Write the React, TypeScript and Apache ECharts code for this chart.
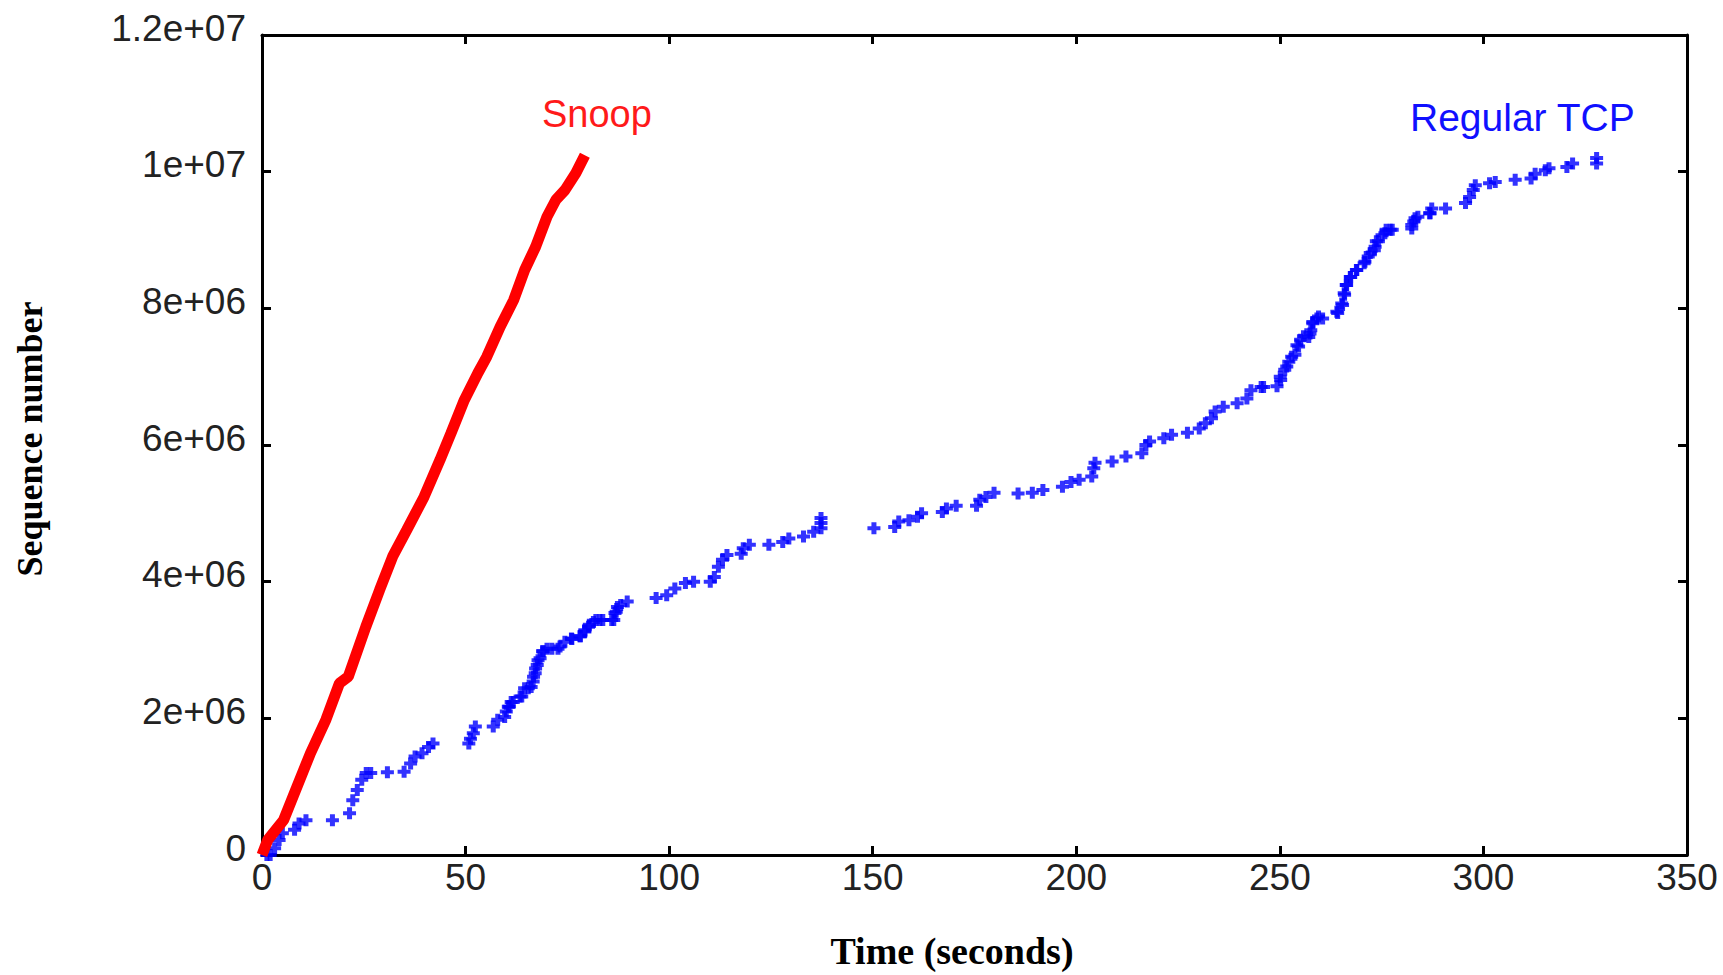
import React, { useEffect, useRef } from "react";
import * as echarts from "echarts";

// Time (s) and sequence number (millions)
const snoopData: [number, number][] = [
  [0, 0], [1.4, 0.22], [5.3, 0.51], [8.6, 1.0], [11.9, 1.49], [15.7, 1.98], [19.0, 2.51],
  [21.2, 2.61], [25.5, 3.34], [28.9, 3.88], [32.1, 4.37], [35.5, 4.75], [39.8, 5.24],
  [43.7, 5.78], [46.4, 6.17], [49.7, 6.66], [53.0, 7.05], [55.2, 7.29], [58.5, 7.73],
  [61.8, 8.12], [64.5, 8.56], [67.2, 8.9], [70.0, 9.34], [72.2, 9.59], [74.4, 9.73],
  [77.1, 9.98], [79.3, 10.24],
];

const regularTcpData: [number, number][] = [
  [1.2, 0.0], [2.0, 0.0], [3.1, 0.1], [4.2, 0.22], [5.0, 0.32], [8.0, 0.37], [9.1, 0.46], [10.8, 0.51],
  [17.3, 0.51], [21.5, 0.61], [22.3, 0.8], [23.4, 0.95], [24.5, 1.1], [25.6, 1.2], [26.7, 1.2],
  [30.8, 1.21], [34.9, 1.22], [36.5, 1.34], [37.6, 1.44], [39.3, 1.49], [40.9, 1.58], [42.0, 1.63],
  [50.8, 1.63], [51.2, 1.7], [51.9, 1.78], [52.4, 1.88], [56.8, 1.88], [57.9, 1.98], [59.6, 2.02],
  [60.0, 2.1], [60.5, 2.17], [60.7, 2.17], [61.2, 2.24], [61.7, 2.24], [63.4, 2.32], [63.8, 2.32],
  [64.5, 2.44], [65.4, 2.44], [66.1, 2.46], [66.6, 2.54], [66.7, 2.61], [67.1, 2.66], [67.2, 2.73],
  [67.6, 2.78], [67.8, 2.85], [68.3, 2.88], [68.9, 2.98], [69.1, 2.98], [70.0, 3.02], [71.2, 3.02],
  [72.7, 3.02], [73.2, 3.05], [74.4, 3.12], [76.0, 3.17], [76.1, 3.16], [78.1, 3.2], [78.2, 3.2],
  [79.3, 3.27], [79.3, 3.29], [80.2, 3.34], [80.4, 3.37], [81.4, 3.41], [82.0, 3.44], [83.0, 3.44],
  [83.7, 3.44], [85.9, 3.44], [86.4, 3.44], [86.7, 3.54], [87.0, 3.56], [87.3, 3.63], [88.1, 3.66],
  [89.7, 3.71],
  [96.8, 3.76], [99.4, 3.8], [101.4, 3.9], [104.0, 3.98], [106.0, 4.0], [110.1, 4.0], [111.1, 4.07],
  [112.1, 4.22], [113.1, 4.32], [114.2, 4.39], [117.7, 4.41], [118.2, 4.49], [119.7, 4.54],
  [124.5, 4.54], [127.9, 4.58], [129.4, 4.63], [133.0, 4.66], [135.5, 4.73], [137.3, 4.78],
  [137.3, 4.86], [137.3, 4.93], [150.3, 4.78], [155.4, 4.8], [156.4, 4.88], [158.9, 4.9],
  [161.0, 4.95], [162.0, 5.0], [167.1, 5.02], [168.1, 5.07], [170.5, 5.11], [175.5, 5.11],
  [176.3, 5.2], [177.8, 5.24], [179.8, 5.3], [185.7, 5.29], [189.2, 5.3], [191.8, 5.34],
  [196.6, 5.39], [198.7, 5.46], [200.7, 5.49], [203.8, 5.54], [204.3, 5.66], [204.6, 5.74],
  [208.8, 5.76], [212.2, 5.83], [216.1, 5.88], [217.1, 6.0], [218.0, 6.05], [221.5, 6.1],
  [223.4, 6.15], [227.3, 6.18], [230.2, 6.24], [231.7, 6.32], [233.2, 6.39], [234.1, 6.49],
  [236.1, 6.56], [239.5, 6.61], [241.9, 6.68], [242.9, 6.8], [245.4, 6.85], [246.0, 6.85],
  [249.3, 6.86], [250.1, 7.0], [250.2, 6.95], [251.2, 7.1], [251.7, 7.15], [252.2, 7.22],
  [252.9, 7.29], [253.7, 7.32], [254.2, 7.46], [254.6, 7.44], [255.1, 7.54], [255.8, 7.59],
  [257.1, 7.58], [257.4, 7.63], [257.6, 7.68], [258.1, 7.8], [258.1, 7.78], [259.1, 7.85],
  [259.5, 7.88], [260.5, 7.85], [264.0, 7.95], [264.2, 7.93], [265.2, 8.07], [265.4, 8.05],
  [265.8, 8.22], [265.9, 8.2], [266.3, 8.34], [266.4, 8.34], [267.3, 8.46], [267.4, 8.46],
  [268.8, 8.56], [268.9, 8.56], [270.7, 8.66], [270.9, 8.68], [271.7, 8.76], [272.2, 8.81],
  [273.2, 8.85], [273.4, 8.9], [273.7, 8.98], [274.2, 8.98], [275.1, 9.07], [275.8, 9.1],
  [276.1, 9.15], [277.1, 9.15], [277.6, 9.15], [282.4, 9.17], [282.4, 9.22], [282.9, 9.27],
  [283.2, 9.32], [283.9, 9.34], [286.8, 9.39], [286.9, 9.39], [287.3, 9.46], [290.7, 9.46],
  [295.6, 9.54], [296.6, 9.63], [297.5, 9.73], [298.0, 9.8], [301.5, 9.83], [302.9, 9.85],
  [307.8, 9.88], [311.7, 9.9], [312.7, 9.97], [315.2, 10.02], [316.1, 10.05], [320.5, 10.07],
  [321.9, 10.12], [327.8, 10.12], [327.8, 10.2],
];

const xTickLabels = ["0", "50", "100", "150", "200", "250", "300", "350"];
const yTickLabels = ["0", "2e+06", "4e+06", "6e+06", "8e+06", "1e+07", "1.2e+07"];

const seriesNames = ["Snoop", "Regular TCP"];
const xTitle = "Time (seconds)";
const yTitle = "Sequence number";

const SANS = "'Liberation Sans', Arial, sans-serif";
const SERIF = "'Liberation Serif', 'Times New Roman', serif";

const PLUS = "path://M0,4H4V0H9V4H13V8H9V12H4V8H0Z";

export default function App() {
  const ref = useRef<HTMLDivElement>(null);
  useEffect(() => {
    if (!ref.current) return;
    const chart = echarts.init(ref.current, undefined, { renderer: "svg" });
    const axisLine = () => ({ show: true, onZero: false, lineStyle: { color: "#000", width: 3 } });
    const axisTick = () => ({ show: true, inside: true, length: 9, lineStyle: { color: "#000", width: 3 } });
    const toM = (d: [number, number][]) => d.map(([t, s]) => [t, s * 1e6]);
    chart.setOption({
      animation: false,
      backgroundColor: "#fff",
      grid: { left: 262, right: 36, top: 35, bottom: 120, containLabel: false },
      xAxis: [
        {
          type: "value", min: 0, max: 350, interval: 50, position: "bottom",
          axisLine: axisLine(), axisTick: axisTick(), splitLine: { show: false },
          axisLabel: {
            fontSize: 37, color: "#222", fontFamily: SANS, margin: 4,
            formatter: (v: number) => xTickLabels[Math.round(v / 50)] ?? "",
          },
        },
        {
          type: "value", min: 0, max: 350, interval: 50, position: "top",
          axisLine: axisLine(), axisTick: axisTick(), splitLine: { show: false }, axisLabel: { show: false },
        },
      ],
      yAxis: [
        {
          type: "value", min: 0, max: 1.2e7, interval: 2e6, position: "left",
          axisLine: axisLine(), axisTick: axisTick(), splitLine: { show: false },
          axisLabel: {
            margin: 16,
            formatter: (v: number) => "{a|" + (yTickLabels[Math.round(v / 2e6)] ?? "") + "}",
            rich: {
              a: { fontSize: 37, color: "#222", fontFamily: SANS, padding: [0, 0, 14, 0] },
            },
          },
        },
        {
          type: "value", min: 0, max: 1.2e7, interval: 2e6, position: "right",
          axisLine: axisLine(), axisTick: axisTick(), splitLine: { show: false }, axisLabel: { show: false },
        },
      ],
      series: [
        {
          name: seriesNames[0], type: "line", data: toM(snoopData), showSymbol: false,
          lineStyle: { color: "#ff0000", width: 11, cap: "butt" }, clip: false, z: 3,
        },
        {
          name: seriesNames[1], type: "scatter", data: toM(regularTcpData),
          symbol: PLUS, symbolSize: [13, 12], itemStyle: { color: "#0000ff" }, z: 2,
        },
      ],
      graphic: [
        {
          type: "text", x: 542, y: 114,
          style: { text: seriesNames[0], fill: "#ff1a1a", font: `38px ${SANS}`, align: "left", verticalAlign: "middle" },
        },
        {
          type: "text", x: 1410, y: 117,
          style: { text: seriesNames[1], fill: "#1010ff", font: `39px ${SANS}`, align: "left", verticalAlign: "middle" },
        },
        {
          type: "text", x: 952, y: 951,
          style: { text: xTitle, fill: "#000", font: `bold 38px ${SERIF}`, align: "center", verticalAlign: "middle" },
        },
        {
          type: "text", x: 30, y: 439, rotation: Math.PI / 2,
          style: { text: yTitle, fill: "#000", font: `bold 36px ${SERIF}`, align: "center", verticalAlign: "middle" },
        },
      ],
    });
    return () => chart.dispose();
  }, []);
  return (
    <div
      ref={ref}
      style={{ position: "absolute", left: 0, top: 0, width: 1723, height: 975, background: "#fff" }}
    />
  );
}
